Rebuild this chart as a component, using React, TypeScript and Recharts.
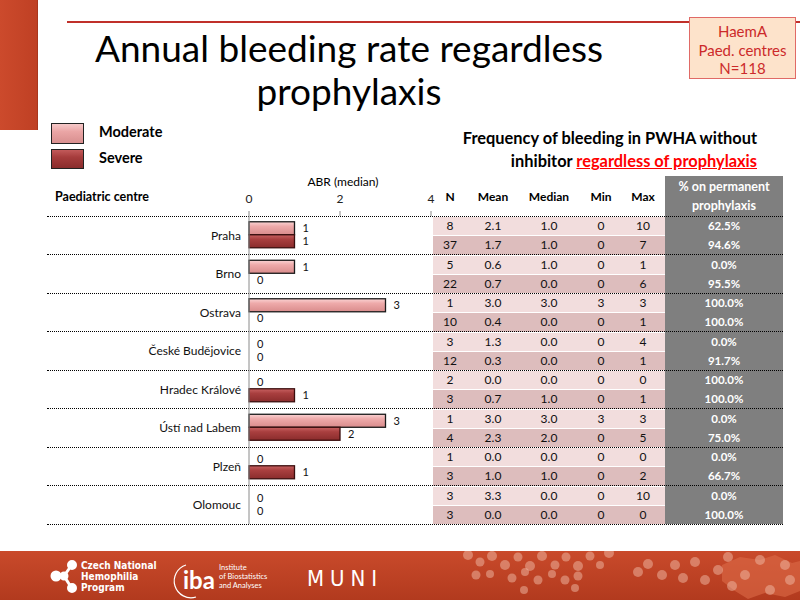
import React from 'react';
import { BarChart, Bar, XAxis, YAxis, LabelList } from 'recharts';

// paediatric centres (rows)
const centres = [
  'Praha',
  'Brno',
  'Ostrava',
  'České Budějovice',
  'Hradec Králové',
  'Ústí nad Labem',
  'Plzeň',
  'Olomouc',
];

// table values, moderate / severe per centre
const nModerate = [8, 5, 1, 3, 2, 1, 1, 3];
const nSevere = [37, 22, 10, 12, 3, 4, 3, 3];
const meanModerate = [2.1, 0.6, 3.0, 1.3, 0.0, 3.0, 0.0, 3.3];
const meanSevere = [1.7, 0.7, 0.4, 0.3, 0.7, 2.3, 1.0, 0.0];
const medianModerate = [1.0, 1.0, 3.0, 0.0, 0.0, 3.0, 0.0, 0.0];
const medianSevere = [1.0, 0.0, 0.0, 0.0, 1.0, 2.0, 1.0, 0.0];
const minModerate = [0, 0, 3, 0, 0, 3, 0, 0];
const minSevere = [0, 0, 0, 0, 0, 0, 0, 0];
const maxModerate = [10, 1, 3, 4, 0, 3, 0, 10];
const maxSevere = [7, 6, 1, 1, 1, 5, 2, 0];
const prophModerate = [62.5, 0.0, 100.0, 0.0, 100.0, 0.0, 0.0, 0.0];
const prophSevere = [94.6, 95.5, 100.0, 91.7, 100.0, 75.0, 66.7, 100.0];

const xTicks = [0, 2, 4];

const FONT = 'Lato, "Open Sans", sans-serif';
const NARROW = '"Liberation Sans Narrow", "DejaVu Sans Condensed", sans-serif';

const ROW_TOP = 216;
const ROW_H = 38.5;

// column centres of the table
const COLS = [450, 493, 549, 601, 643];

const chartData = centres.map((name, i) => ({
  name,
  Moderate: medianModerate[i],
  Severe: medianSevere[i],
}));

const abs = (left: number, top: number, extra: React.CSSProperties = {}): React.CSSProperties => ({
  position: 'absolute',
  left,
  top,
  ...extra,
});

// zero bars get a tiny min size so their label still shows; the rect itself is skipped
const barShape = (props: any) => {
  const { x, y, width, height, fill, stroke, strokeWidth } = props;
  if (!(width > 1)) return <g />;
  return <rect x={x} y={y} width={width} height={height} fill={fill} stroke={stroke} strokeWidth={strokeWidth} />;
};

const barLabel = (props: any) => {
  const { x, y, width, height, value } = props;
  const w = Number(width) > 1 ? Number(width) : 0;
  return (
    <text x={Number(x) + w + 8} y={Number(y) + Number(height) / 2} dy={4} fontSize={11} fill="#111" fontFamily={FONT}>
      {String(value)}
    </text>
  );
};

function Cell({ x, text, top, h, bold, color }: { x: number; text: string; top: number; h: number; bold?: boolean; color?: string }) {
  return (
    <div
      style={abs(x - 30, top, {
        width: 60,
        height: h,
        lineHeight: h + 'px',
        textAlign: 'center',
        fontSize: bold ? 11.5 : 12,
        fontWeight: bold ? 700 : 400,
        color: color || '#111',
      })}
    >
      {text}
    </div>
  );
}

function TableRows() {
  const out: React.ReactNode[] = [];
  centres.forEach((_, i) => {
    const rows = [
      { n: nModerate[i], mean: meanModerate[i], med: medianModerate[i], min: minModerate[i], max: maxModerate[i], p: prophModerate[i], bg: '#f2dddd' },
      { n: nSevere[i], mean: meanSevere[i], med: medianSevere[i], min: minSevere[i], max: maxSevere[i], p: prophSevere[i], bg: '#ddbdbd' },
    ];
    rows.forEach((r, j) => {
      const top = ROW_TOP + i * ROW_H + j * (ROW_H / 2);
      const h = ROW_H / 2;
      out.push(
        <div key={`bg-${i}-${j}`} style={abs(433, top, { width: 232, height: h - 1, background: r.bg, borderTop: '1px solid #fff' })} />
      );
      const vals = [String(r.n), r.mean.toFixed(1), r.med.toFixed(1), String(r.min), String(r.max)];
      vals.forEach((v, k) => out.push(<Cell key={`c-${i}-${j}-${k}`} x={COLS[k]} text={v} top={top} h={h} />));
      out.push(<Cell key={`p-${i}-${j}`} x={724} text={r.p.toFixed(1) + '%'} top={top} h={h} bold color="#fff" />);
    });
  });
  return <>{out}</>;
}

// footer decoration dots
const circles = [
  [468, 4, 5], [480, 11, 4.5], [492, 5, 5], [505, 14, 5], [518, 6, 4.5], [530, 15, 5], [542, 5, 5],
  [555, 14, 4.5], [566, 6, 4.5], [578, 15, 5], [590, 5, 4.5], [600, 14, 4], [476, 24, 4.5], [490, 23, 4],
  [512, 27, 4.5], [525, 21, 4], [538, 29, 4.5], [552, 23, 4], [565, 29, 4.5], [578, 25, 4.5], [524, 39, 4],
  [575, 37, 4], [609, 2, 5], [638, 21, 5], [648, 13, 5], [662, 24, 5], [675, 14, 5], [683, 27, 5],
  [695, 11, 5], [705, 29, 5], [718, 19, 5], [728, 6, 5], [732, 35, 5], [745, 24, 5], [760, 9, 5],
  [770, 39, 5], [785, 14, 5], [790, 29, 5],
];

export default function App() {
  return (
    <div style={{ position: 'absolute', left: 0, top: 0, width: 800, height: 600, background: '#fff', overflow: 'hidden', fontFamily: FONT }}>
      <svg width={0} height={0} style={{ position: 'absolute' }}>
        <defs>
          <linearGradient id="gradModerate" x1="0" y1="0" x2="0" y2="1">
            <stop offset="0%" stopColor="#fad4d4" />
            <stop offset="35%" stopColor="#eeaaaa" />
            <stop offset="100%" stopColor="#d98c8c" />
          </linearGradient>
          <linearGradient id="gradSevere" x1="0" y1="0" x2="0" y2="1">
            <stop offset="0%" stopColor="#c86262" />
            <stop offset="35%" stopColor="#a93f3f" />
            <stop offset="100%" stopColor="#8a2c2c" />
          </linearGradient>
          <linearGradient id="gradFooter" x1="0" y1="0" x2="0" y2="1">
            <stop offset="0%" stopColor="#c94a2b" />
            <stop offset="100%" stopColor="#b23a1e" />
          </linearGradient>
        </defs>
      </svg>

      {/* top left block and rule */}
      <div style={abs(0, 0, { width: 37, height: 130, background: 'linear-gradient(90deg, #cc4a2c, #bf4024)', borderRight: '1px solid #a8361d' })} />
      <div style={abs(67, 21, { width: 733, height: 2, background: '#c0302a' })} />

      {/* title */}
      <div style={abs(49, 26, { width: 600, textAlign: 'center', fontSize: 37, lineHeight: '43px', color: '#000' })}>
        Annual bleeding rate regardless
        <br />
        prophylaxis
      </div>

      {/* HaemA box */}
      <div
        style={abs(689, 17, {
          width: 107,
          height: 62,
          background: '#fde3cb',
          border: '1px solid #e06a66',
          color: '#cc2a2a',
          fontSize: 15,
          lineHeight: '18.5px',
          textAlign: 'center',
          paddingTop: 4,
          boxSizing: 'border-box',
        })}
      >
        HaemA
        <br />
        Paed. centres
        <br />
        N=118
      </div>

      {/* legend */}
      <div style={abs(51, 123, { width: 33, height: 21, background: 'linear-gradient(#f7caca, #eaa5a5 40%, #d88f8f)', border: '1.5px solid #222', boxSizing: 'border-box' })} />
      <div style={abs(51, 149, { width: 33, height: 20, background: 'linear-gradient(#c25a5a, #a63c3c 40%, #8a2c2c)', border: '1.5px solid #222', boxSizing: 'border-box' })} />
      <div style={abs(99, 123, { fontSize: 14.5, fontWeight: 700, lineHeight: '18px' })}>Moderate</div>
      <div style={abs(99, 149, { fontSize: 14.5, fontWeight: 700, lineHeight: '18px' })}>Severe</div>

      {/* subtitle */}
      <div style={abs(380, 126, { width: 377, textAlign: 'right', fontSize: 16.4, fontWeight: 700, lineHeight: '23px' })}>
        Frequency of bleeding in PWHA without
        <br />
        inhibitor{' '}
        <span style={{ color: '#ff0000', textDecoration: 'underline' }}>regardless of prophylaxis</span>
      </div>

      <div style={abs(283, 174, { width: 120, textAlign: 'center', fontSize: 12, lineHeight: '16px' })}>ABR (median)</div>
      <div style={abs(55, 189, { fontSize: 12.5, fontWeight: 700, lineHeight: '16px' })}>Paediatric centre</div>

      {/* table header */}
      <div style={abs(665, 176, { width: 118, height: 348, background: '#7f7f7f' })} />
      {['N', 'Mean', 'Median', 'Min', 'Max'].map((t, k) => (
        <div key={t} style={abs(COLS[k] - 30, 189, { width: 60, textAlign: 'center', fontSize: 12, fontWeight: 700, lineHeight: '16px' })}>
          {t}
        </div>
      ))}
      <div style={abs(665, 177, { width: 118, textAlign: 'center', fontSize: 12.5, fontWeight: 700, lineHeight: '19px', color: '#fff' })}>
        % on permanent
        <br />
        prophylaxis
      </div>

      <TableRows />

      {/* dotted separators */}
      {Array.from({ length: centres.length + 1 }).map((_, i) => (
        <div key={`sep-${i}`} style={abs(47, ROW_TOP + i * ROW_H - 0.5, { width: 736, height: 0, borderTop: '1px dotted #000' })} />
      ))}

      {/* bar chart */}
      <div style={abs(0, 170)}>
        <BarChart
          layout="vertical"
          width={440}
          height={360}
          data={chartData}
          margin={{ top: 16, right: 9, bottom: 6, left: 0 }}
          barCategoryGap="15%"
          barGap={0}
        >
          <XAxis
            type="number"
            orientation="top"
            domain={[0, 4]}
            ticks={xTicks}
            height={30}
            axisLine={false}
            tickSize={5}
            tickMargin={8}
            tickLine={{ stroke: '#8a8a8a' }}
            tick={{ fontSize: 12, fill: '#222', fontFamily: FONT }}
          />
          <YAxis
            type="category"
            dataKey="name"
            width={249}
            interval={0}
            tickLine={false}
            axisLine={{ stroke: '#8a8a8a' }}
            tick={{ fontSize: 12, fill: '#111', fontFamily: FONT }}
          />
          <Bar dataKey="Moderate" fill="url(#gradModerate)" stroke="#1a1a1a" strokeWidth={1.3} minPointSize={0.5} shape={barShape} isAnimationActive={false}>
            <LabelList dataKey="Moderate" content={barLabel} />
          </Bar>
          <Bar dataKey="Severe" fill="url(#gradSevere)" stroke="#3a0d0d" strokeWidth={1.3} minPointSize={0.5} shape={barShape} isAnimationActive={false}>
            <LabelList dataKey="Severe" content={barLabel} />
          </Bar>
        </BarChart>
      </div>

      {/* footer */}
      <svg style={abs(0, 551)} width={800} height={49}>
        <rect x={0} y={0} width={800} height={49} fill="url(#gradFooter)" />
        <path d="M722 14 L740 6 L760 9 L775 4 L792 12 L800 10 L800 40 L785 46 L765 42 L748 48 L735 40 L722 30 Z" fill="#dc6a48" opacity={0.6} />
        {circles.map(([cx, cy, r], i) => (
          <circle key={i} cx={cx} cy={cy} r={r} fill="#f0b9a6" opacity={0.5} />
        ))}
        {/* CNHP icon */}
        <g stroke="#fff" strokeWidth={3} fill="#fff">
          <line x1={56} y1={25} x2={64} y2={25} />
          <line x1={64} y1={25} x2={71} y2={15} />
          <line x1={64} y1={25} x2={71} y2={36} />
          <circle cx={56} cy={25} r={4} />
          <circle cx={64} cy={25} r={3} />
          <circle cx={72} cy={14} r={3.5} />
          <circle cx={72} cy={37} r={3.5} />
        </g>
        <text x={81} y={18} fill="#fff" fontSize={10} fontFamily={NARROW} fontWeight={700}>Czech National</text>
        <text x={81} y={29} fill="#fff" fontSize={10} fontFamily={NARROW} fontWeight={700}>Hemophilia</text>
        <text x={81} y={40} fill="#fff" fontSize={10} fontFamily={NARROW} fontWeight={700}>Program</text>
        <path d="M186 14 A14 14 0 1 0 196 46" stroke="#fff" strokeWidth={1.2} fill="none" />
        <text x={183} y={38} fill="#fff" fontSize={24} fontWeight={700} fontFamily={FONT}>iba</text>
        <text x={219} y={19} fill="#fff" fontSize={7.5} fontFamily={FONT}>Institute</text>
        <text x={219} y={28} fill="#fff" fontSize={7.5} fontFamily={FONT}>of Biostatistics</text>
        <text x={219} y={37} fill="#fff" fontSize={7.5} fontFamily={FONT}>and Analyses</text>
        <text x={307} y={35} fill="#fff" fontSize={22} fontFamily={NARROW} letterSpacing={6}>MUNI</text>
      </svg>
    </div>
  );
}
